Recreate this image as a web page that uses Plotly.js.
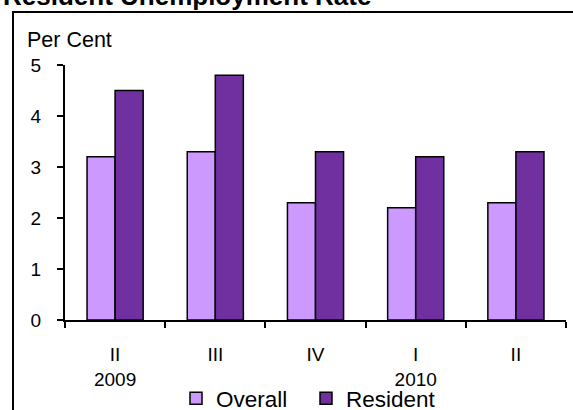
<!DOCTYPE html>
<html>
<head>
<meta charset="utf-8">
<script src="https://cdn.plot.ly/plotly-3.0.1.min.js"></script>
<style>
html,body{margin:0;padding:0;background:#fff;}
#chart{width:573px;height:410px;}
</style>
</head>
<body>
<div id="chart"></div>
<script>
var categories = ['II<br>2009', 'III', 'IV', 'I<br>2010', 'II'];
var overall = [3.2, 3.3, 2.3, 2.2, 2.3];
var resident = [4.5, 4.8, 3.3, 3.2, 3.3];
var seriesNames = ['Overall', 'Resident'];
var titleText = 'Resident Unemployment Rate';
var yLabel = 'Per Cent';

var W = 573, H = 410;
var L = 65, R = 7, T = 65, B = 90;
var pw = W - L - R, ph = H - T - B;
function px(x){ return (x - L) / pw; }
function py(y){ return (H - B - y) / ph; }

var font = 'Arial, "Liberation Sans", sans-serif';

var traces = [
  {type:'bar', name: seriesNames[0], x: categories, y: overall,
   marker:{color:'#CC99FF', line:{color:'#000', width:1.5}}},
  {type:'bar', name: seriesNames[1], x: categories, y: resident,
   marker:{color:'#7030A0', line:{color:'#000', width:1.5}}}
];

var layout = {
  width: W, height: H,
  margin: {l: L, r: R, t: T, b: B, autoexpand: false},
  paper_bgcolor: '#fff', plot_bgcolor: '#fff',
  font: {family: font, color: '#000'},
  barmode: 'group', bargap: 0.44, bargroupgap: 0,
  showlegend: true,
  legend: {orientation: 'h', x: px(176), xanchor: 'left', y: py(377), yanchor: 'top',
           font: {size: 22.5, family: font}, bgcolor: 'rgba(0,0,0,0)',
           entrywidth: 85, entrywidthmode: 'pixels'},
  xaxis: {type: 'category', showline: true, linecolor: '#000', linewidth: 2,
          ticks: 'outside', ticklen: 6, tickwidth: 2, tickcolor: '#000',
          tickson: 'boundaries', showgrid: false, zeroline: false,
          tickfont: {size: 19, family: font}, ticklabelstandoff: 16},
  yaxis: {range: [0, 5], dtick: 1, tick0: 0, showline: true, linecolor: '#000', linewidth: 2,
          ticks: 'outside', ticklen: 6, tickwidth: 2, tickcolor: '#000',
          showgrid: false, zeroline: false,
          tickfont: {size: 19, family: font}, ticklabelstandoff: 12},
  shapes: [
    {type: 'rect', xref: 'paper', yref: 'paper', x0: px(13), x1: px(600), y0: py(430), y1: py(12),
     line: {color: '#000', width: 2}, fillcolor: 'rgba(0,0,0,0)', layer: 'below'}
  ],
  annotations: [
    {text: '<b>' + titleText + '</b>', xref: 'paper', yref: 'paper', x: px(1), y: py(-4),
     xanchor: 'left', yanchor: 'middle', showarrow: false, font: {size: 26, family: font, color: '#000'}},
    {text: yLabel, xref: 'paper', yref: 'paper', x: px(25), y: py(40),
     xanchor: 'left', yanchor: 'middle', showarrow: false, font: {size: 21.5, family: font, color: '#000'}}
  ]
};

Plotly.newPlot('chart', traces, layout, {displayModeBar: false, staticPlot: true});
</script>
</body>
</html>
